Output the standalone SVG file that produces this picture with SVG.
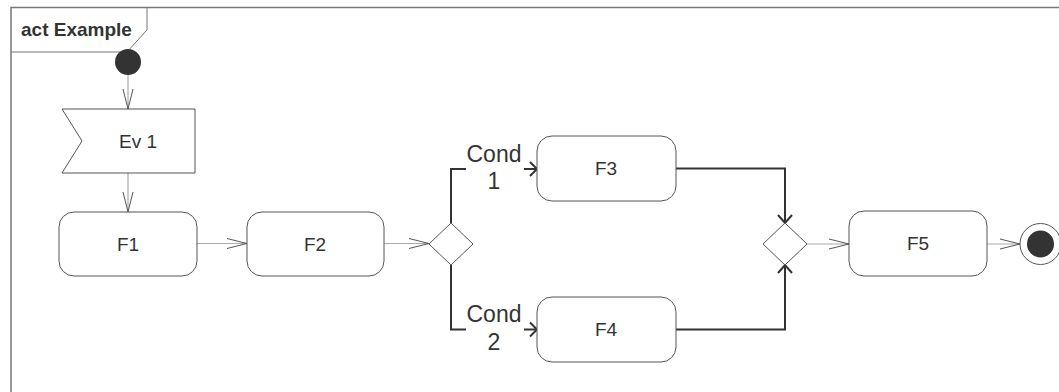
<svg xmlns="http://www.w3.org/2000/svg" width="1059" height="392" viewBox="0 0 1059 392">
<style>
.frame{fill:none;stroke:#777;stroke-width:1.5}
.node{fill:#fff;stroke:#555;stroke-width:1}
.lbl{font-family:"Liberation Sans",Arial,sans-serif;font-size:19px;fill:#333;text-anchor:middle}
.cond{font-family:"Liberation Sans",Arial,sans-serif;font-size:23px;fill:#333;text-anchor:middle}
.title{font-family:"Liberation Sans",Arial,sans-serif;font-size:19px;font-weight:bold;fill:#333}
.flow{fill:none;stroke:#aaa;stroke-width:1.2}
.head{fill:none;stroke:#555;stroke-width:1}
.thick{fill:none;stroke:#333;stroke-width:2}
</style>
<rect width="1059" height="392" fill="#fff"/>
<g id="frame">
<path class="frame" d="M11,400 L11,7.5 L1070,7.5"/>
<path d="M11,52 L127,52 L147,30 L147,7.5" fill="none" stroke="#777" stroke-width="1"/>
<text class="title" x="21" y="36">act Example</text>
</g>
<g id="connectors">
<path class="flow" d="M128,75 L128,109"/>
<path class="head" d="M123,89 L128,109 L133,89"/>
<path class="flow" d="M128,173 L128,212"/>
<path class="head" d="M123,192 L128,212 L133,192"/>
<path class="flow" d="M197,243.5 L247,243.5"/>
<path class="head" d="M227,238.5 L247,243.5 L227,248.5"/>
<path class="flow" d="M384,243.5 L429,243.5"/>
<path class="head" d="M409,238.5 L429,243.5 L409,248.5"/>
<path class="thick" d="M451,223 L451,169 L466,169"/>
<path class="thick" d="M524,169 L537,169"/>
<path class="thick" d="M530,162 L537,169 L530,176"/>
<path class="thick" d="M451,265 L451,329.5 L466,329.5"/>
<path class="thick" d="M524,329.5 L537,329.5"/>
<path class="thick" d="M530,322.5 L537,329.5 L530,336.5"/>
<path class="thick" d="M676,168.5 L785,168.5 L785,223"/>
<path class="thick" d="M778,215 L785,223 L792,215"/>
<path class="thick" d="M676,329.5 L785,329.5 L785,265"/>
<path class="thick" d="M778,273 L785,265 L792,273"/>
<path class="flow" d="M807,244 L849,244"/>
<path class="head" d="M829,239 L849,244 L829,249"/>
<path class="flow" d="M987,244 L1020,244"/>
<path class="head" d="M1000,239 L1020,244 L1000,249"/>
<text class="cond" x="494" y="162">Cond</text>
<text class="cond" x="494" y="189">1</text>
<text class="cond" x="494" y="322">Cond</text>
<text class="cond" x="494" y="350">2</text>
</g>
<g id="initial"><circle cx="128" cy="62" r="13" fill="#333"/></g>
<g id="ev1">
<path class="node" d="M62,109 L195,109 L195,173 L62,173 L82,141 Z"/>
<text class="lbl" x="138" y="148">Ev 1</text>
</g>
<g id="f1"><rect class="node" x="59" y="212" width="138" height="64" rx="15"/><text class="lbl" x="128" y="251">F1</text></g>
<g id="f2"><rect class="node" x="247" y="212" width="137" height="64" rx="15"/><text class="lbl" x="315" y="251">F2</text></g>
<g id="decision"><path class="node" d="M429,244 L451,223 L473,244 L451,265 Z"/></g>
<g id="f3"><rect class="node" x="537" y="136" width="139" height="65" rx="15"/><text class="lbl" x="606" y="175">F3</text></g>
<g id="f4"><rect class="node" x="537" y="297" width="139" height="65" rx="15"/><text class="lbl" x="606" y="336">F4</text></g>
<g id="merge"><path class="node" d="M763,244 L785,223 L807,244 L785,265 Z"/></g>
<g id="f5"><rect class="node" x="849" y="211" width="138" height="65" rx="15"/><text class="lbl" x="918" y="250">F5</text></g>
<g id="final"><circle cx="1040.5" cy="244" r="20.5" fill="#fff" stroke="#555" stroke-width="1"/><circle cx="1040.5" cy="244" r="13.5" fill="#333"/></g>
</svg>
